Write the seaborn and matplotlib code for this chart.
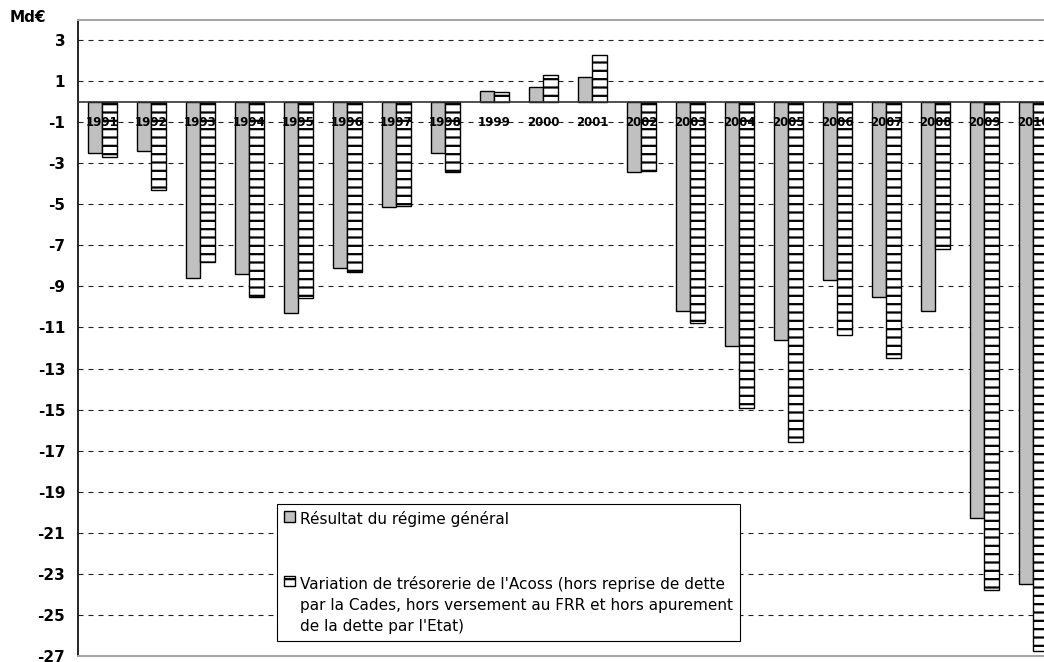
import numpy as np
import pandas as pd
import matplotlib
matplotlib.use("Agg")
import matplotlib.pyplot as plt
import seaborn as sns

# Annual figures, in billions of euros
years = [str(y) for y in range(1991, 2011)]
resultat = [-2.5, -2.4, -8.6, -8.4, -10.3, -8.1, -5.15, -2.5, 0.5, 0.7,
            1.2, -3.45, -10.2, -11.9, -11.6, -8.7, -9.5, -10.2, -20.3, -23.5]
tresorerie = [-2.7, -4.3, -7.8, -9.5, -9.55, -8.3, -5.1, -3.45, 0.45, 1.3,
              2.25, -3.4, -10.8, -14.9, -16.6, -11.35, -12.5, -7.2, -23.8, -26.75]

label_res = "Résultat du régime général"
label_tres = ("Variation de trésorerie de l'Acoss (hors reprise de dette\n"
              "par la Cades, hors versement au FRR et hors apurement\n"
              "de la dette par l'Etat)")
series_order = [label_res, label_tres]
series_colors = {label_res: "#C0C0C0", label_tres: "white"}

yticks = list(range(-27, 4, 2))
unit_label = "Md€"

df = pd.DataFrame({
    "year": years * 2,
    "series": [label_res] * len(years) + [label_tres] * len(years),
    "value": resultat + tresorerie,
})

sns.set_style("white")
plt.rcParams["font.family"] = ["DejaVu Sans"]
plt.rcParams["text.color"] = "black"
plt.rcParams["xtick.color"] = "black"
plt.rcParams["ytick.color"] = "black"
plt.rcParams["hatch.color"] = "black"
plt.rcParams["hatch.linewidth"] = 1.6

W, H = 1044, 662
fig = plt.figure(figsize=(W / 100, H / 100), dpi=100)
ax = fig.add_axes([77.7 / W, 6 / H, 980 / W, 636.5 / H])

sns.barplot(data=df, x="year", y="value", hue="series", hue_order=series_order,
            palette=series_colors, saturation=1, width=0.585, gap=0,
            edgecolor="black", linewidth=1.0, errorbar=None, legend=False,
            zorder=2, ax=ax)

for bar in ax.containers[1]:
    bar.set_hatch("--")

ax.set_xlim(-0.5, len(years) - 0.5)
ax.set_ylim(-27, 4)
ax.set_xlabel("")
ax.set_ylabel("")

# y axis: bold labels, dashed grid behind bars
ax.set_yticks(yticks)
ax.set_yticklabels([str(v) for v in yticks], fontweight="bold", fontsize=11,
                   color="black")
ax.tick_params(axis="y", direction="inout", length=6, width=1, color="black", pad=6)
ax.set_axisbelow(True)
ax.yaxis.grid(True, color="#222222", linestyle=(0, (4.5, 4.5)), linewidth=0.8)
ax.xaxis.grid(False)

# category axis sits on zero, ticks between categories
ax.spines["bottom"].set_position(("data", 0))
ax.spines["bottom"].set_color("#333333")
ax.spines["bottom"].set_linewidth(1.2)
ax.spines["bottom"].set_zorder(3)
ax.set_xticks(range(len(years)))
ax.set_xticklabels([])
ax.tick_params(axis="x", which="major", length=0)
ax.set_xticks(np.arange(-0.5, len(years), 1), minor=True)
ax.tick_params(axis="x", which="minor", direction="out", length=3, width=1, color="#333333")

for i, yr in enumerate(years):
    ax.text(i, -1, yr, ha="center", va="center", fontsize=8.5,
            fontweight="bold", color="black", zorder=5)

ax.spines["left"].set_color("black")
ax.spines["left"].set_linewidth(1.2)
ax.spines["top"].set_color("#A6A6A6")
ax.spines["top"].set_linewidth(1.5)
ax.spines["right"].set_visible(False)
ax.axhline(ax.get_ylim()[0], color="#A6A6A6", linewidth=1.5, zorder=3, clip_on=False)

fig.text(10 / W, 1 - 17 / H, unit_label, fontsize=11, fontweight="bold",
         color="black", ha="left", va="center")

leg = ax.legend(handles=[ax.containers[0], ax.containers[1]], labels=series_order,
                loc="upper left", bbox_to_anchor=(277 / W, 1 - 504 / H),
                bbox_transform=fig.transFigure, borderaxespad=0, frameon=True,
                fancybox=False, edgecolor="black", framealpha=1,
                handlelength=0.7, handleheight=0.7, handletextpad=0.35,
                labelspacing=3.2, borderpad=0.45, prop={"size": 11})
leg.get_frame().set_linewidth(0.8)
for t in leg.get_texts():
    t.set_linespacing(1.5)
    t.set_color("black")
for column in leg._legend_handle_box.get_children():
    for row in column.get_children():
        row.align = "top"

fig.savefig("out.png", dpi=100)
